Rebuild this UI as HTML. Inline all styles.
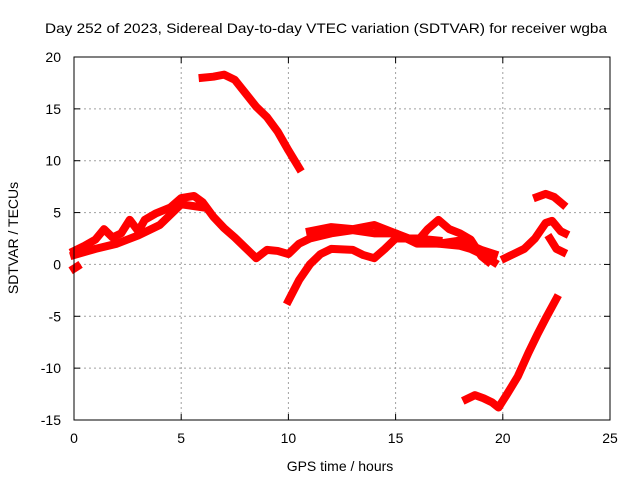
<!DOCTYPE html>
<html><head><meta charset="utf-8"><style>
body{margin:0;background:#fff}
svg{display:block;font-family:"Liberation Sans",sans-serif;font-size:13px}
</style></head><body>
<svg id="chart" width="640" height="480">
<text x="45" y="33" textLength="562" lengthAdjust="spacingAndGlyphs" style="font-size:14px">Day 252 of 2023, Sidereal Day-to-day VTEC variation (SDTVAR) for receiver wgba</text>
<g id="grid"></g>
<g id="ticks"></g>
<g id="series"></g>
<rect x="74" y="57" width="536" height="363" fill="none" stroke="#000" stroke-width="1"/>
<text x="340" y="471" text-anchor="middle" style="font-size:14px">GPS time / hours</text>
<text transform="translate(18,238) rotate(-90)" text-anchor="middle" style="font-size:14px">SDTVAR / TECUs</text>
</svg>
<script>
const xTicks=[0,5,10,15,20,25];
const yTicks=[-15,-10,-5,0,5,10,15,20];
const arcMain=[[0,1.3],[0.5,1.8],[1,2.4],[1.4,3.4],[1.8,2.6],[2.2,3],[2.6,4.3],[3,3.2],[3.3,4.3],[3.8,4.9],[4.5,5.5],[5,6.4],[5.6,6.6],[6,6],[6.5,4.6],[7,3.5],[7.5,2.6],[8,1.6],[8.5,0.6],[9,1.4],[9.5,1.3],[10,1],[10.5,2],[11,2.5],[12,3],[13,3.3],[14,3],[15,3],[16,2],[17,2],[18,2.3],[19,1.4],[19.6,1]];
const arcMainLow=[[0,0.9],[1,1.5],[2,2],[3,2.8],[4,3.8],[5,5.8],[6,5.5]];
const arcRise=[[10,-3.5],[10.5,-1.5],[11,0],[11.5,1],[12,1.5],[13,1.4],[13.5,0.9],[14,0.6],[14.5,1.5],[15,2.5],[16,2.5],[17,2.3]];
const arcMid=[[11,3.2],[12,3.6],[13,3.4],[14,3.8],[15,3],[16,2.2],[16.5,3.4],[17,4.3],[17.5,3.4],[18,3],[18.5,2.4],[19,0.8],[19.3,0.3]];
const arcDesc=[[17,2],[18,1.8],[18.5,1.5],[19,1],[19.6,0.2]];
const arcTop=[[6,18],[6.5,18.1],[7,18.3],[7.5,17.8],[8,16.5],[8.5,15.2],[9,14.2],[9.5,12.8],[10,11],[10.5,9.3]];
const arcLow=[[18.3,-13],[18.7,-12.6],[19.1,-12.9],[19.5,-13.3],[19.8,-13.8],[20.2,-12.5],[20.7,-10.8],[21.2,-8.5],[21.6,-6.8],[22,-5.2],[22.5,-3.3]];
const arcEnd=[[20.1,0.6],[20.5,1],[21,1.5],[21.5,2.5],[22,4],[22.3,4.2],[22.7,3.2],[22.9,3]];
const arcHigh=[[21.6,6.5],[22,6.8],[22.4,6.5],[22.8,5.8]];
const arcTail=[[22.2,2.5],[22.5,1.5],[22.8,1.2]];
const arcDot=[[0,-0.4],[0.15,-0.2]];
const arcs=[arcMain,arcMainLow,arcRise,arcMid,arcDesc,arcTop,arcLow,arcEnd,arcHigh,arcTail,arcDot];
const NS="http://www.w3.org/2000/svg";
const X=t=>74+t*536/25, Y=v=>420-(v+15)*363/35;
const grid=document.getElementById('grid'),ticks=document.getElementById('ticks'),ser=document.getElementById('series');
function mk(tag,attrs,parent){const e=document.createElementNS(NS,tag);for(const k in attrs)e.setAttribute(k,attrs[k]);parent.appendChild(e);return e;}
xTicks.forEach(t=>{
 if(t>0&&t<25){const g=mk('line',{x1:X(t),x2:X(t),y1:57,y2:420,stroke:'#a0a0a0','stroke-dasharray':'2,3'},grid);
 
 }
 mk('line',{x1:X(t),x2:X(t),y1:420,y2:414,stroke:'#000'},ticks);
 mk('line',{x1:X(t),x2:X(t),y1:57,y2:63,stroke:'#000'},ticks);
 const l=mk('text',{x:X(t),y:443,'text-anchor':'middle',style:'font-size:14px'},ticks);l.textContent=t;
 
 
});
yTicks.forEach(v=>{
 if(v>-15&&v<20){const g=mk('line',{x1:74,x2:610,y1:Y(v),y2:Y(v),stroke:'#a0a0a0','stroke-dasharray':'2,3'},grid);
 
 }
 mk('line',{x1:74,x2:80,y1:Y(v),y2:Y(v),stroke:'#000'},ticks);
 mk('line',{x1:604,x2:610,y1:Y(v),y2:Y(v),stroke:'#000'},ticks);
 const l=mk('text',{x:61,y:Y(v)+5,'text-anchor':'end',style:'font-size:14px'},ticks);l.textContent=v;
 
 
});
arcs.forEach(a=>{
 const p=mk('polyline',{points:a.map(d=>X(d[0])+','+Y(d[1])).join(' '),fill:'none',stroke:'#ff0000','stroke-width':8,'stroke-linejoin':'round','stroke-linecap':'square'},ser);
 
 
});
</script>
</body></html>
